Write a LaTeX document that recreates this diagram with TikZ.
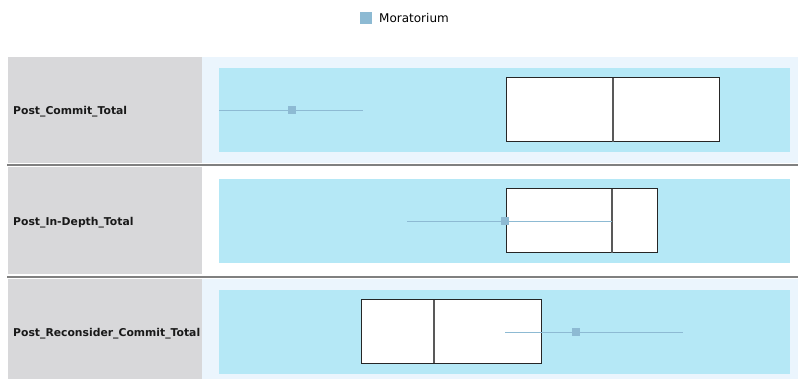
\documentclass[tikz,border=0pt]{standalone}
\usepackage{fontspec}
\setmainfont{DejaVu Sans}
\definecolor{panel}{HTML}{D8D8DA}
\definecolor{plot}{HTML}{B5E8F6}
\definecolor{lite}{HTML}{EBF5FD}
\definecolor{mora}{HTML}{8DBAD3}
\definecolor{rule}{HTML}{808080}
\tikzset{rowlabel/.style={anchor=west,font=\bfseries\fontsize{10.8}{12}\selectfont,inner sep=0pt,text=black!90}}
\tikzset{boxpart/.style={draw=black!85,fill=white,line width=1pt}}
\tikzset{whisk/.style={draw=mora,line width=0.9pt}}
\tikzset{meanmark/.style={fill=mora,inner sep=0pt,minimum size=8pt}}

\begin{document}
\begin{tikzpicture}[x=1pt,y=-1pt]
        \useasboundingbox (0,0) rectangle (798,379);
        % legend
        \node[fill=mora,inner sep=0pt,minimum size=12pt] (key) at (365.5,18) {};
        \node[anchor=west,inner sep=0pt,font=\fontsize{12}{14}\selectfont] (keytext) at (379,18.5) {Moratorium};

        % row backgrounds
        \fill[lite] (202,57) rectangle (798,163);
        \fill[lite] (202,279) rectangle (798,379);
        \fill[panel] (8,57) rectangle (202,163);
        \fill[panel] (8,167) rectangle (202,274);
        \fill[panel] (8,279) rectangle (202,379);
        \fill[plot] (219,68) rectangle (790,152);
        \fill[plot] (219,179) rectangle (790,263);
        \fill[plot] (219,290) rectangle (790,374);
        \draw[rule,line width=2.4pt] (7,165) -- (798,165);
        \draw[rule,line width=2.4pt] (7,277) -- (798,277);

        % labels
        \node[rowlabel] (commit) at (13,112) {Post\_Commit\_Total};
        \node[rowlabel] (depth) at (13,223) {Post\_In-Depth\_Total};
        \node[rowlabel] (recon) at (13,334) {Post\_Reconsider\_Commit\_Total};

        % boxes
        \draw[boxpart] (506,78) rectangle (719,142);
        \draw[black!65,line width=1.3pt] (613,78) -- (613,142);
        \draw[boxpart] (506,189) rectangle (657,253);
        \draw[black!65,line width=1.3pt] (612,189) -- (612,253);
        \draw[boxpart] (361,300) rectangle (541,363);
        \draw[black!65,line width=1.3pt] (434,300) -- (434,363);

        % whiskers
        \coordinate (c1) at (219,110); \coordinate (c2) at (363,110);
        \coordinate (d1) at (407,221); \coordinate (d2) at (612,221);
        \coordinate (r1) at (505,332); \coordinate (r2) at (683,332);
        \draw[whisk] (c1) -- (c2);
        \draw[whisk] (d1) -- (d2);
        \draw[whisk] (r1) -- (r2);
        \node[meanmark] (m1) at (292,110) {};
        \node[meanmark] (m2) at (505,221) {};
        \node[meanmark] (m3) at (576,332) {};
    \end{tikzpicture}
\end{document}
